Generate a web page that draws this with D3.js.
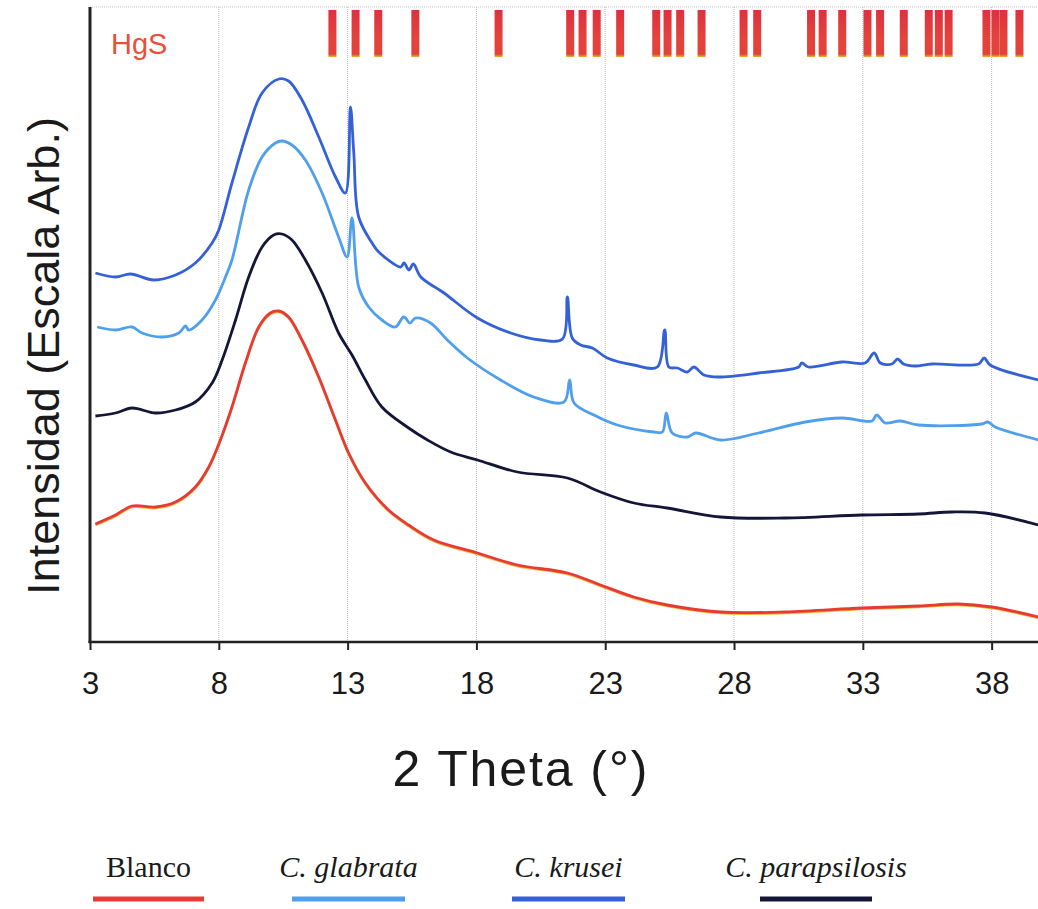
<!DOCTYPE html>
<html>
<head>
<meta charset="utf-8">
<script src="https://cdn.jsdelivr.net/npm/d3@7"></script>
<style>
  body { margin: 0; background: #fff; }
  svg { display: block; }
</style>
</head>
<body>
<svg id="chart" width="1038" height="909"></svg>
<script>
// XRD patterns, 2 Theta (deg) vs intensity (arbitrary units)
const blancoData = [
  [3.21,118],[3.99,127],[4.63,136],[5.54,135],[6.32,140],[7.09,155],[7.61,175],[8.06,202],
  [8.51,235],[9.03,279],[9.55,315],[10.00,329],[10.33,331],[10.71,325],[11.23,302],[11.88,265],
  [12.53,222],[13.04,189],[13.69,159],[14.59,132],[15.37,117],[16.35,102],[18.04,89],
  [19.59,77],[21.53,69],[22.82,57],[24.11,45],[25.41,37],[27.48,30],[29.99,30],[32.96,34],
  [35.16,36],[36.71,38],[38.01,35],[39.82,25]
];
const glabrataData = [
  [3.28,315],[3.99,312],[4.63,315],[5.02,309],[5.80,305],[6.45,309],[6.71,316],[6.83,312],
  [7.35,322],[7.87,342],[8.26,365],[8.51,382],[9.16,452],[9.68,485],[10.20,499],[10.45,501],
  [10.84,497],[11.36,482],[12.01,449],[12.65,405],[12.98,385],[13.17,424],[13.43,355],[13.82,335],
  [14.33,322],[14.85,315],[15.18,325],[15.42,319],[15.64,324],[16.22,319],[16.87,302],[17.65,284],
  [18.94,262],[20.23,245],[21.40,240],[21.62,262],[21.79,239],[22.56,227],[23.47,217],[24.89,210],
  [25.22,210],[25.37,229],[25.60,209],[26.19,205],[26.51,209],[27.48,202],[28.95,209],[30.77,220],
  [32.19,224],[33.35,221],[33.54,227],[33.87,219],[34.45,221],[35.16,217],[37.62,218],[37.85,220],
  [38.14,215],[39.82,202]
];
const kruseiData = [
  [3.21,369],[3.99,365],[4.57,368],[5.48,362],[6.32,367],[7.09,379],[7.74,399],
  [8.00,412],[8.51,459],[9.16,515],[9.68,549],[10.33,563],[10.71,561],[11.23,542],[11.88,505],
  [12.53,465],[12.91,449],[13.11,535],[13.24,489],[13.43,425],[13.95,399],[14.21,390],[15.06,375],
  [15.19,379],[15.38,372],[15.55,378],[15.84,365],[16.74,349],[18.04,324],[19.33,309],[20.49,302],
  [21.34,303],[21.53,345],[21.72,304],[22.05,297],[22.50,294],[23.08,284],[24.11,277],[25.02,275],
  [25.31,312],[25.47,275],[25.80,274],[26.19,270],[26.44,275],[26.83,267],[27.40,265],[28.95,269],
  [30.51,275],[30.63,279],[30.89,275],[32.19,280],[33.09,279],[33.44,289],[33.68,279],[34.13,278],
  [34.35,283],[34.58,278],[35.03,276],[35.68,278],[37.49,278],[37.71,284],[37.94,277],[39.82,262]
];
const parapsilosisData = [
  [3.21,226],[3.99,229],[4.63,234],[5.54,229],[6.32,232],[7.09,240],[7.74,259],[8.13,282],
  [8.65,322],[9.16,365],[9.68,395],[10.13,407],[10.45,408],[10.84,402],[11.36,382],[12.01,349],
  [12.65,309],[13.17,287],[13.69,262],[14.33,235],[15.37,214],[16.10,202],[17.00,190],
  [18.04,182],[19.59,170],[21.53,164],[22.82,150],[24.11,139],[25.41,134],[27.48,125],[29.99,124],
  [32.96,127],[35.16,128],[36.45,130],[37.75,129],[39.82,117]
];

// HgS reference reflections (2 Theta)
const hgsPeaks = [12.41,13.31,14.19,15.63,18.86,21.64,22.12,22.67,23.58,24.98,25.42,25.91,26.74,
  28.37,28.90,30.99,31.44,32.20,33.18,33.67,34.59,35.56,35.95,36.33,37.80,38.15,38.46,39.08];

const xTicks = [3,8,13,18,23,28,33,38];
const seriesNames = ['Blanco','C. glabrata','C. krusei','C. parapsilosis'];
const seriesColors = ['#e63b35','#4f9fec','#3461d6','#141637'];

document.addEventListener('DOMContentLoaded', function () {
    drawChart();
});

function drawChart(){
    const svg = d3.select('#chart');
    const margin = { top: 7, left: 90, right: 0, bottom: 267 };
    const width = 1038, height = 909;
    const plotBottom = height - margin.bottom;

    const x = d3.scaleLinear().domain([3, 39.8]).range([margin.left, width - margin.right]);
    const y = d3.scaleLinear().domain([0, 635]).range([plotBottom, margin.top]);

    svg.append('clipPath').attr('id', 'plotClip')
        .append('rect')
        .attr('x', margin.left).attr('y', 0)
        .attr('width', width - margin.left).attr('height', plotBottom);

    // dotted grid
    svg.append('g')
        .selectAll('line')
        .data(xTicks.slice(1))
        .join('line')
        .attr('x1', d => x(d)).attr('x2', d => x(d))
        .attr('y1', margin.top).attr('y2', plotBottom)
        .style('stroke', '#b8b8b8')
        .style('stroke-width', 1)
        .style('stroke-dasharray', '1,1');
    svg.append('line')
        .attr('x1', margin.left).attr('x2', width)
        .attr('y1', margin.top).attr('y2', margin.top)
        .style('stroke', '#c4c4c4')
        .style('stroke-width', 1)
        .style('stroke-dasharray', '1,1');

    // HgS bars
    const defs = svg.append('defs');
    const grad = defs.append('linearGradient')
        .attr('id', 'hgsGrad')
        .attr('x1', '0%').attr('x2', '0%').attr('y1', '0%').attr('y2', '100%');
    grad.append('stop').attr('offset', '0%').attr('stop-color', '#de3040');
    grad.append('stop').attr('offset', '60%').attr('stop-color', '#e4433c');
    grad.append('stop').attr('offset', '94%').attr('stop-color', '#e2423a');
    grad.append('stop').attr('offset', '100%').attr('stop-color', '#f2b330');

    svg.append('g')
        .selectAll('rect')
        .data(hgsPeaks)
        .join('rect')
        .attr('x', d => x(d) - 4)
        .attr('y', 10)
        .attr('width', 8)
        .attr('height', 47)
        .style('fill', 'url(#hgsGrad)');

    svg.append('text')
        .attr('x', 111).attr('y', 54)
        .style('font-family', 'Liberation Sans, Arial, sans-serif')
        .style('font-size', '29px')
        .style('fill', '#e8503a')
        .text('HgS');

    // curves
    const line = d3.line()
        .x(d => x(d[0]))
        .y(d => y(d[1]))
        .curve(d3.curveCatmullRom.alpha(0.5));

    const allSeries = [blancoData, glabrataData, kruseiData, parapsilosisData];
    const curves = svg.append('g').attr('clip-path', 'url(#plotClip)');

    // yellowish fringe under the red trace
    curves.append('path')
        .attr('d', line(blancoData))
        .attr('transform', 'translate(0,1.2)')
        .style('fill', 'none')
        .style('stroke', '#f4b43a')
        .style('stroke-width', 2.2);

    curves.selectAll('path.trace')
        .data(allSeries)
        .join('path')
        .attr('class', 'trace')
        .attr('d', d => line(d))
        .style('fill', 'none')
        .style('stroke', (d, i) => seriesColors[i])
        .style('stroke-width', 2.8)
        .style('stroke-linejoin', 'round');

    // axes
    const xAxis = svg.append('g')
        .attr('transform', `translate(0,${plotBottom})`)
        .call(d3.axisBottom(x).tickValues(xTicks).tickSize(8).tickPadding(22).tickFormat(d3.format('d')));
    xAxis.select('.domain').remove();
    xAxis.selectAll('line').style('stroke', '#222').style('stroke-width', 2);
    xAxis.selectAll('text')
        .style('font-family', 'Liberation Sans, Arial, sans-serif')
        .style('font-size', '31px')
        .style('fill', '#1a1a1a');

    svg.append('line')
        .attr('x1', margin.left - 1.5).attr('x2', width)
        .attr('y1', plotBottom).attr('y2', plotBottom)
        .style('stroke', '#222').style('stroke-width', 2.5);
    svg.append('line')
        .attr('x1', margin.left).attr('x2', margin.left)
        .attr('y1', margin.top).attr('y2', plotBottom + 1)
        .style('stroke', '#222').style('stroke-width', 3);

    // axis titles
    svg.append('text')
        .attr('x', 520).attr('y', 786)
        .attr('text-anchor', 'middle')
        .attr('textLength', 255)
        .attr('lengthAdjust', 'spacing')
        .style('font-family', 'Liberation Sans, Arial, sans-serif')
        .style('font-size', '50px')
        .style('fill', '#1a1a1a')
        .text('2 Theta (°)');

    svg.append('text')
        .attr('transform', 'translate(59,356) rotate(-90)')
        .attr('text-anchor', 'middle')
        .style('font-family', 'Liberation Sans, Arial, sans-serif')
        .style('font-size', '45px')
        .style('fill', '#1a1a1a')
        .text('Intensidad (Escala Arb.)');

    // legend
    const legendX = [[93,204],[292,405],[512,625],[760,872]];
    const legend = svg.append('g')
        .selectAll('g')
        .data(seriesNames)
        .join('g');
    legend.append('text')
        .attr('x', (d, i) => (legendX[i][0] + legendX[i][1]) / 2)
        .attr('y', 877)
        .attr('text-anchor', 'middle')
        .style('font-family', 'Liberation Serif, Times New Roman, serif')
        .style('font-size', '30px')
        .style('font-style', (d, i) => i == 0 ? 'normal' : 'italic')
        .style('fill', '#1a1a1a')
        .text(d => d);
    legend.append('line')
        .attr('x1', (d, i) => legendX[i][0])
        .attr('x2', (d, i) => legendX[i][1])
        .attr('y1', 899).attr('y2', 899)
        .style('stroke', (d, i) => seriesColors[i])
        .style('stroke-width', 5);
}
</script>
</body>
</html>
